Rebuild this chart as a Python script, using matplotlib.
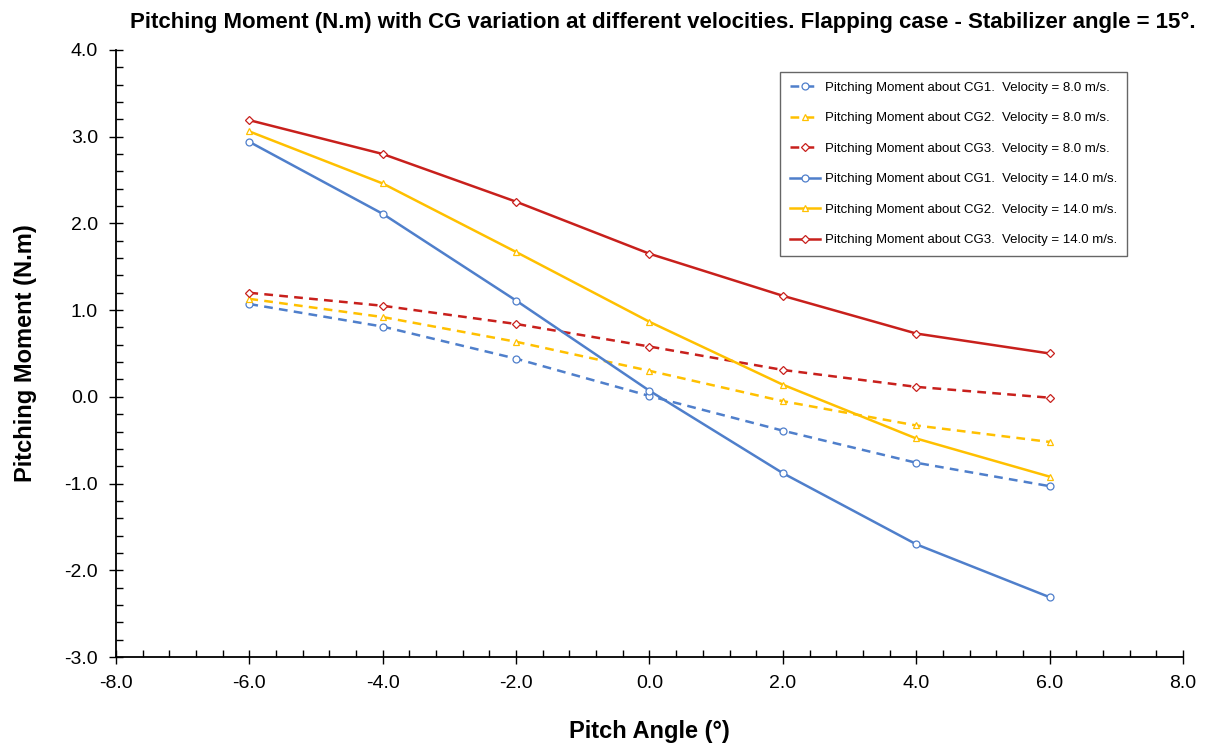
import matplotlib
matplotlib.use("Agg")
import matplotlib.pyplot as plt
from matplotlib.ticker import MultipleLocator, FormatStrFormatter

plt.rcParams['font.family'] = ['Liberation Sans', 'DejaVu Sans']

pitch = [-6, -4, -2, 0, 2, 4, 6]
cg1_v8 = [1.07, 0.81, 0.44, 0.01, -0.39, -0.76, -1.03]
cg2_v8 = [1.13, 0.92, 0.635, 0.30, -0.05, -0.33, -0.52]
cg3_v8 = [1.20, 1.05, 0.84, 0.58, 0.31, 0.115, -0.01]
cg1_v14 = [2.94, 2.11, 1.11, 0.07, -0.88, -1.70, -2.31]
cg2_v14 = [3.06, 2.46, 1.67, 0.865, 0.14, -0.48, -0.92]
cg3_v14 = [3.19, 2.80, 2.25, 1.65, 1.165, 0.73, 0.50]

labels = [
    "Pitching Moment about CG1.  Velocity = 8.0 m/s.",
    "Pitching Moment about CG2.  Velocity = 8.0 m/s.",
    "Pitching Moment about CG3.  Velocity = 8.0 m/s.",
    "Pitching Moment about CG1.  Velocity = 14.0 m/s.",
    "Pitching Moment about CG2.  Velocity = 14.0 m/s.",
    "Pitching Moment about CG3.  Velocity = 14.0 m/s.",
]

blue = "#4F7FCB"
yellow = "#FFC000"
red = "#C8201C"

fig = plt.figure(figsize=(12.07, 7.44), dpi=100)
ax = fig.add_axes([0.0961, 0.1169, 0.884, 0.816])

series = [
    (cg1_v8, blue, 'o', (0, (3.5, 2.5)), 5),
    (cg2_v8, yellow, '^', (0, (3.5, 2.5)), 5),
    (cg3_v8, red, 'D', (0, (3.5, 2.5)), 3.8),
    (cg1_v14, blue, 'o', '-', 5),
    (cg2_v14, yellow, '^', '-', 5),
    (cg3_v14, red, 'D', '-', 3.8),
]
for (vals, c, m, ls, ms), lab in zip(series, labels):
    ax.plot(pitch, vals, color=c, linestyle=ls, linewidth=1.8, marker=m,
            markersize=ms, markerfacecolor='white', markeredgecolor=c,
            markeredgewidth=0.9, label=lab)

ax.set_xlim(-8, 8)
ax.set_ylim(-3, 4)
ax.xaxis.set_major_locator(MultipleLocator(2))
ax.xaxis.set_minor_locator(MultipleLocator(0.4))
ax.yaxis.set_major_locator(MultipleLocator(1))
ax.yaxis.set_minor_locator(MultipleLocator(0.2))
ax.xaxis.set_major_formatter(FormatStrFormatter('%.1f'))
ax.yaxis.set_major_formatter(FormatStrFormatter('%.1f'))
ax.tick_params(which='major', direction='inout', length=10, width=1.0, labelsize=14, pad=8)
ax.tick_params(which='minor', direction='in', length=5, width=1.0)
ax.tick_params(top=False, right=False)
for s in ['top', 'right']:
    ax.spines[s].set_visible(False)
for s in ['left', 'bottom']:
    ax.spines[s].set_linewidth(1.3)

ax.set_xlabel("Pitch Angle (°)", fontsize=17, fontweight='bold')
ax.xaxis.set_label_coords(0.5, -0.103)
ax.set_ylabel("Pitching Moment (N.m)", fontsize=17, fontweight='bold')
ax.yaxis.set_label_coords(-0.0745, 0.5)
fig.suptitle("Pitching Moment (N.m) with CG variation at different velocities. Flapping case - Stabilizer angle = 15°.",
             fontsize=16, fontweight='bold', x=0.549, y=0.984)

leg = ax.legend(loc='upper right', bbox_to_anchor=(0.9475, 0.9638), borderaxespad=0,
                fontsize=9.5, frameon=True, fancybox=False, edgecolor='#404040',
                handlelength=2.3, labelspacing=1.38, borderpad=0.75, handletextpad=0.35)
leg.get_frame().set_linewidth(1.0)

fig.savefig("out.png", dpi=100)
